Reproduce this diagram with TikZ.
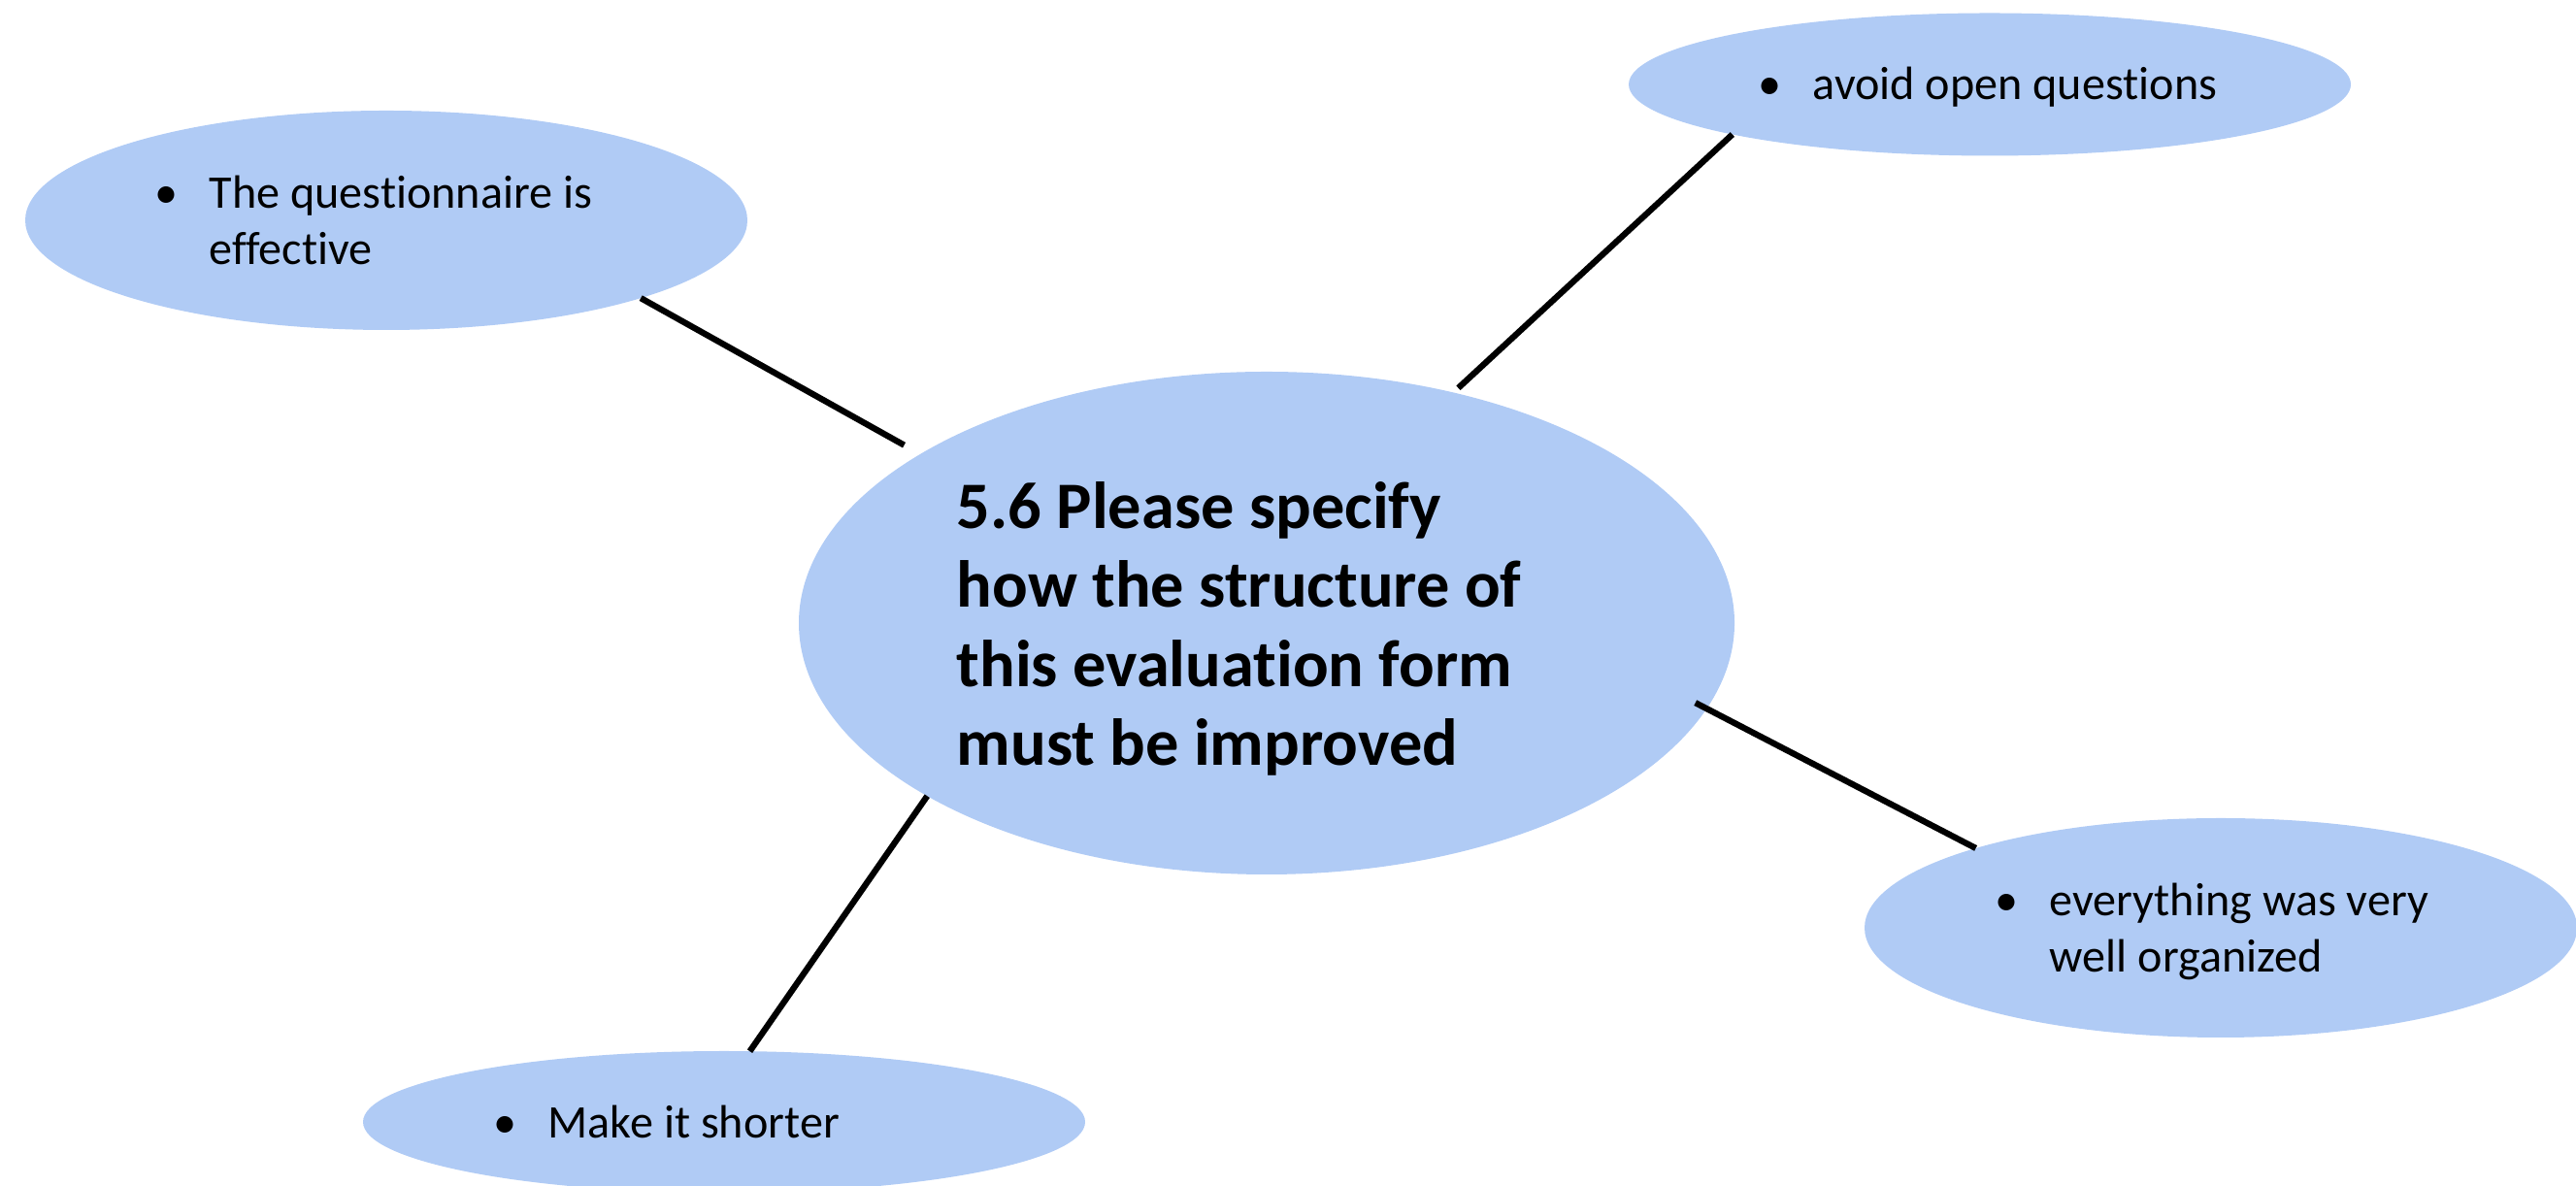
\documentclass[tikz,border=0pt]{standalone}
\usepackage{fontspec}
\setmainfont{Carlito}[Ligatures = NoCommon]
\usetikzlibrary{shapes.geometric}
\newcommand{\bulitem}[1]{\makebox[0.56cm][l]{\textbullet}\begin{tabular}[t]{@{}l@{}}#1\end{tabular}}
\begin{document}
\begin{tikzpicture}[
  bubble/.style = {ellipse, fill = bubblecol, inner sep = 0pt, outer sep = 0pt},
  itemtext/.style = {anchor = west, inner sep = 0pt, align = left, font = \fontsize{13.7}{16.5}\selectfont},
  link/.style = {draw = black, line width = 1.8pt}
]
\definecolor{bubblecol}{HTML}{B0CBF5}
\useasboundingbox (0, 0) rectangle (26.54, 12.22);
\node[bubble, minimum width = 9.64cm, minimum height = 5.18cm] (main) at (13.05, 5.80) {};
\node[bubble, minimum width = 7.44cm, minimum height = 2.26cm] (effective) at (3.98, 9.95) {};
\node[bubble, minimum width = 7.44cm, minimum height = 1.47cm] (openq) at (20.50, 11.35) {};
\node[bubble, minimum width = 7.34cm, minimum height = 2.26cm] (organized) at (22.88, 2.66) {};
\node[bubble, minimum width = 7.44cm, minimum height = 1.46cm] (shorter) at (7.46, 0.66) {};
\node[anchor = west, inner sep = 0pt, align = left, font = \bfseries\fontsize{19.45}{23.1}\selectfont] (maintext) at (9.85, 5.74) {5.6 Please specify\\how the structure of\\this evaluation form\\must be improved};
\node[itemtext] (effectivetext) at (1.59, 9.90) {\bulitem{The questionnaire is\\effective}};
\node[itemtext] (openqtext) at (18.11, 11.31) {\bulitem{avoid open questions}};
\node[itemtext] (organizedtext) at (20.55, 2.61) {\bulitem{everything was very\\well organized}};
\node[itemtext] (shortertext) at (5.08, 0.61) {\bulitem{Make it shorter}};
\draw[link, shorten <= 0.19cm] (main.154.7) -- (effective.-17);
\draw[link, shorten <= 0.07cm] (main.51.2) -- (openq.191.4);
\draw[link, shorten <= -0.13cm] (main.-11) -- (organized.162.5);
\draw[link] (main.207.8) -- (shorter.70.6);
\end{tikzpicture}
\end{document}
